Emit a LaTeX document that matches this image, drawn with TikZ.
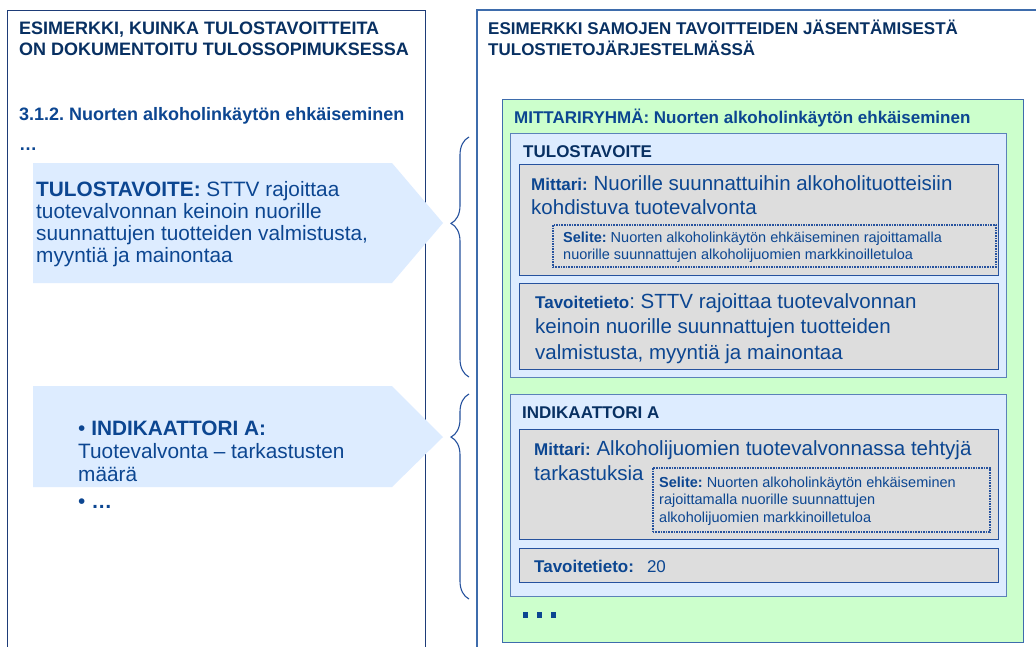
\documentclass[tikz,border=0pt]{standalone}
\usepackage{fontspec}
\setmainfont{Liberation Sans}
\usepackage{xcolor}
\usetikzlibrary{positioning,decorations.pathreplacing}
\frenchspacing
\definecolor{navy}{RGB}{8,48,98}
\definecolor{inkblue}{RGB}{12,70,145}
\definecolor{framenavy}{RGB}{30,60,120}
\definecolor{frameblue}{RGB}{62,108,172}
\definecolor{edgeblue}{RGB}{38,82,158}
\definecolor{paleblue}{RGB}{221,236,255}
\definecolor{palegreen}{RGB}{204,255,204}
\definecolor{panelgray}{RGB}{221,221,221}
\tikzset{
  ttl/.style={font=\fontsize{18}{21}\selectfont\bfseries, text=navy, align=left, inner sep=0pt, anchor=base west},
  hdr/.style={font=\fontsize{17}{20}\selectfont\bfseries, text=inkblue, align=left, inner sep=0pt, anchor=base west},
  txt/.style={font=\fontsize{20.8}{22}\selectfont, text=inkblue, align=left, inner sep=0pt, anchor=base west},
  notetxt/.style={font=\fontsize{14.5}{17}\selectfont, text=inkblue, align=left, inner sep=0pt, anchor=base west},
  grpbox/.style={draw=frameblue, fill=palegreen, line width=1.3pt, anchor=north west, inner sep=0pt},
  secbox/.style={draw=frameblue!85, fill=paleblue, line width=1.2pt, anchor=north west, inner sep=0pt},
  itembox/.style={draw=edgeblue, fill=panelgray, line width=1.2pt, anchor=north west, inner sep=0pt},
  notebox/.style={draw=edgeblue, densely dotted, fill=panelgray, line width=1.6pt, anchor=north west, inner sep=0pt},
  brc/.style={decorate, decoration={brace, amplitude=18pt}, draw=edgeblue, line width=1.1pt}
}
\newcommand{\lbl}[1]{{\fontsize{17}{20}\selectfont\bfseries #1}}

\begin{document}
\begin{tikzpicture}[x=1pt, y=-1pt]
\clip (0,0) rectangle (1036,646);
\fill[white] (0,0) rectangle (1036,646);
% the two panels (multi-line texts sit on their last baseline)
\draw[framenavy, line width=1pt] (7,660) -- (7,10) -- (425,10) -- (425,660);
\draw[frameblue, line width=1.6pt] (477,660) -- (477,10) -- (1050,10);
\node[ttl] (lefthead) at (19,55) {ESIMERKKI, KUINKA TULOSTAVOITTEITA\\ON DOKUMENTOITU TULOSSOPIMUKSESSA};
\node[ttl, font=\fontsize{17}{21}\selectfont\bfseries] (righthead) at (488,55) {ESIMERKKI SAMOJEN TAVOITTEIDEN JÄSENTÄMISESTÄ\\TULOSTIETOJÄRJESTELMÄSSÄ};
% left: tulossopimus
\node[ttl, text=inkblue] (sect) at (19,120) {3.1.2. Nuorten alkoholinkäytön ehkäiseminen};
\node[ttl, text=inkblue] (sectdots) at (19,150) {…};
\fill[paleblue] (33,163) -- (392,163) -- (443,223) -- (392,283) -- (33,283) -- cycle;
\node[txt] (tavtext) at (36,262) {\textbf{TULOSTAVOITE:} STTV rajoittaa\\tuotevalvonnan keinoin nuorille\\suunnattujen tuotteiden valmistusta,\\myyntiä ja mainontaa};
\fill[paleblue] (33,386) -- (392,386) -- (443,437) -- (392,487) -- (33,487) -- cycle;
\node[txt, font=\fontsize{20.8}{23}\selectfont] (indtext) at (78,481) {• \textbf{INDIKAATTORI A:}\\Tuotevalvonta – tarkastusten\\määrä};
\node[txt] (inddots) at (78,508) {• \textbf{…}};
% braces
\coordinate (b1top) at (469,137);
\coordinate (b1bot) at (469,377);
\coordinate (b2top) at (469,394);
\coordinate (b2bot) at (469,599);
\draw[brc, decoration={aspect=0.64}] (b1bot) -- (b1top);
\draw[brc, decoration={aspect=0.79}] (b2bot) -- (b2top);
% right: tulostietojarjestelma
\node[grpbox, minimum width=521pt, minimum height=543pt] (grp) at (502,99) {};
\node[hdr] (grphead) at (514,123) {MITTARIRYHMÄ: Nuorten alkoholinkäytön ehkäiseminen};
\node[secbox, minimum width=496pt, minimum height=244pt] (tavbox) at (510,133) {};
\node[hdr, text=navy] (tavhead) at (523,157) {TULOSTAVOITE};
\node[itembox, minimum width=479pt, minimum height=111pt] (mit1) at (519,164) {};
\node[txt, font=\fontsize{20.5}{24}\selectfont] (mit1txt) at (531,214) {\lbl{Mittari:} Nuorille suunnattuihin alkoholituotteisiin\\kohdistuva tuotevalvonta};
\node[notebox, minimum width=443pt, minimum height=42pt] (sel1) at (552,224) {};
\node[notetxt] (sel1txt) at (563,259) {\textbf{Selite:} Nuorten alkoholinkäytön ehkäiseminen rajoittamalla\\nuorille suunnattujen alkoholijuomien markkinoilletuloa};
\node[itembox, minimum width=479pt, minimum height=86pt] (tav1) at (519,283) {};
\node[txt, font=\fontsize{20.5}{25.5}\selectfont] (tav1txt) at (535,359) {\lbl{Tavoitetieto}: STTV rajoittaa tuotevalvonnan\\keinoin nuorille suunnattujen tuotteiden\\valmistusta, myyntiä ja mainontaa};
\node[secbox, minimum width=496pt, minimum height=202pt] (indbox) at (510,394) {};
\node[hdr, text=navy] (indhead) at (522,418) {INDIKAATTORI A};
\node[itembox, minimum width=479pt, minimum height=110pt] (mit2) at (519,429) {};
\node[txt, font=\fontsize{20.5}{25}\selectfont] (mit2txt) at (534,480) {\lbl{Mittari:} Alkoholijuomien tuotevalvonnassa tehtyjä\\tarkastuksia};
\node[notebox, minimum width=337pt, minimum height=64pt] (sel2) at (652,467) {};
\node[notetxt, font=\fontsize{14.5}{17.5}\selectfont] (sel2txt) at (659,522) {\textbf{Selite:} Nuorten alkoholinkäytön ehkäiseminen\\rajoittamalla nuorille suunnattujen\\alkoholijuomien markkinoilletuloa};
\node[itembox, minimum width=479pt, minimum height=34pt] (tav2) at (519,548) {};
\node[hdr] (tav2txt) at (534,572) {Tavoitetieto:\hspace{13pt}\mdseries 20};
\foreach \dx in {0,14,28}
  \fill[inkblue] (523+\dx,612) rectangle ++(5,6);
\end{tikzpicture}
\end{document}
